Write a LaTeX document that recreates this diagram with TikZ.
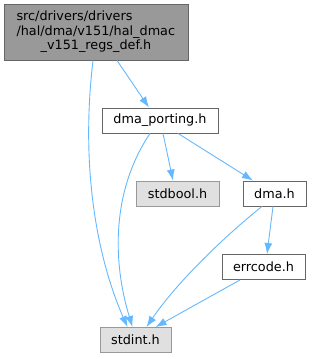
\documentclass[tikz,border=0pt]{standalone}
\usepackage{fontspec}
\setmainfont{DejaVu Sans}
\usetikzlibrary{arrows.meta}

\definecolor{edgeblue}{HTML}{63B8FF}
\definecolor{boxline}{HTML}{666666}
\definecolor{extline}{HTML}{999999}
\definecolor{extfill}{HTML}{E0E0E0}
\definecolor{rootfill}{HTML}{999999}

\tikzset{
  hdr/.style={draw=boxline, fill=white, line width=0.9pt, inner sep=0pt,
    minimum height=25pt, align=center, font=\fontsize{12.8}{14.5}\selectfont},
  sysHdr/.style={hdr, draw=extline, fill=extfill},
  rootHdr/.style={hdr, fill=rootfill},
  inc/.style={->, draw=edgeblue, line width=0.9pt}
}

\begin{document}
\begin{tikzpicture}[x=1pt, y=-1pt, >={Latex[length=11pt, width=8pt]}]
	\useasboundingbox (0,0) rectangle (312,359);
	\node[rootHdr, minimum width=184pt, minimum height=56pt, text width=159pt, align=left] (root) at (96,32)
	  {src/drivers/drivers\\/hal/dma/v151/hal\_dmac\\\makebox[159pt][c]{\_v151\_regs\_def.h}};
	\node[hdr, minimum width=116pt] (porting) at (160,120.5) {dma\_porting.h};
	\node[sysHdr, minimum width=83pt] (stdbool) at (177.5,193.5) {stdbool.h};
	\node[hdr, minimum width=63pt] (dma) at (274.5,193.5) {dma.h};
	\node[hdr, minimum width=83pt] (errcode) at (263.5,267) {errcode.h};
	\node[sysHdr, minimum width=71pt] (stdint) at (135.5,340) {stdint.h};

	\draw[inc] ([xshift=21pt]root.south) -- ([xshift=-11pt]porting.north);
	\draw[inc] ([xshift=-3pt]root.south) .. controls (80,170) and (98,260) .. ([xshift=-8pt]stdint.north);
	\draw[inc] ([xshift=-10pt]porting.south) .. controls (112,190) and (112,260) .. ([xshift=-3pt]stdint.north);
	\draw[inc] ([xshift=3pt]porting.south) -- ([xshift=-4.5pt]stdbool.north);
	\draw[inc] ([xshift=18pt]porting.south) -- ([xshift=-21.5pt]dma.north);
	\draw[inc] ([xshift=-12.5pt]dma.south) .. controls (220,240) and (175,285) .. ([xshift=11pt]stdint.north);
	\draw[inc] ([xshift=-1.5pt]dma.south) -- ([xshift=3.5pt]errcode.north);
	\draw[inc] ([xshift=-23.5pt]errcode.south) -- ([xshift=20pt]stdint.north);
\end{tikzpicture}
\end{document}
